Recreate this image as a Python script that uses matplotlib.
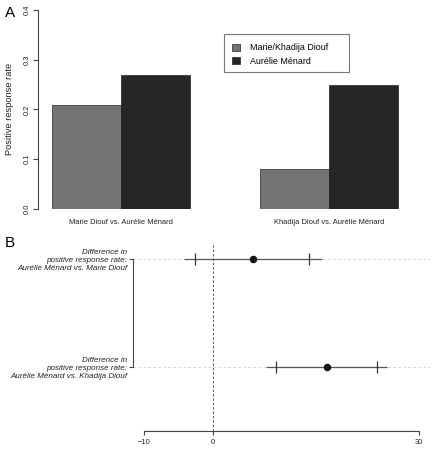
import matplotlib
matplotlib.use("Agg")
import matplotlib.pyplot as plt
from matplotlib.patches import Patch, Rectangle
import numpy as np

plt.rcParams['font.family'] = ['Liberation Sans', 'DejaVu Sans']

# panel A data
groups = ["Marie Diouf vs. Aurélie Ménard", "Khadija Diouf vs. Aurélie Ménard"]
series_names = ["Marie/Khadija Diouf", "Aurélie Ménard"]
diouf_rate = [0.21, 0.08]
menard_rate = [0.27, 0.25]
bar_colors = ["#747474", "#262626"]
y_ticks = [0.0, 0.1, 0.2, 0.3, 0.4]

# panel B data
diff_labels = ["Difference in\npositive response rate:\nAurélie Ménard vs. Marie Diouf",
               "Difference in\npositive response rate:\nAurélie Ménard vs. Khadija Diouf"]
diff_est = [5.9, 16.6]
ci_inner_lo = [-2.6, 9.2]
ci_inner_hi = [14.0, 23.9]
ci_outer_lo = [-4.2, 7.8]
ci_outer_hi = [15.9, 25.3]
x_ticks_b = [-10, 0, 30]

W, H = 432, 451
fig = plt.figure(figsize=(W / 100, H / 100), dpi=100)

def box(x0, y0, x1, y1):
    return [x0 / W, 1 - y1 / H, (x1 - x0) / W, (y1 - y0) / H]

axis_col = "#444444"

# ---- panel A ----
ax = fig.add_axes(box(38, 2, 412, 209))
starts = 1 + 3 * np.arange(len(groups))
ax.bar(starts + 0.5, diouf_rate, width=1, color=bar_colors[0], edgecolor="#222222", linewidth=0.5)
ax.bar(starts + 1.5, menard_rate, width=1, color=bar_colors[1], edgecolor="#222222", linewidth=0.5)
ax.set_xlim(0.8, 6.2)
ax.set_ylim(0, 0.416)
for s in ["top", "right", "bottom"]:
    ax.spines[s].set_visible(False)
ax.spines["left"].set_bounds(0, 0.4)
ax.spines["left"].set_color(axis_col)
ax.spines["left"].set_linewidth(0.8)
ax.set_yticks(y_ticks)
ax.set_yticklabels([f"{v:.1f}" for v in y_ticks], rotation=90, va="center")
ax.tick_params(axis="y", length=3.5, width=0.8, color=axis_col, pad=1.5, labelsize=5.4, labelcolor="#222222")
ax.set_xticks(starts + 1)
ax.set_xticklabels(groups)
ax.tick_params(axis="x", length=0, pad=7.5, labelsize=5.4, labelcolor="#222222")
fig.text(10 / W, 1 - 109 / H, "Positive response rate", rotation=90, ha="center", va="center",
         fontsize=6.7, color="#222222")
fig.text(10 / W, 1 - 13 / H, "A", ha="center", va="center", fontsize=11)

handles = [Patch(facecolor=c, edgecolor="#222222", linewidth=0.5) for c in bar_colors]
fig.legend(handles, series_names, loc="upper left", bbox_to_anchor=(224 / W, 1 - 35 / H),
           frameon=False, fontsize=6.4, handlelength=0.8, handleheight=0.8,
           handletextpad=1.2, labelspacing=0.5, borderpad=0.95, borderaxespad=0)
fig.patches.append(Rectangle((224 / W, 1 - 72 / H), 125 / W, 38 / H, transform=fig.transFigure,
                             fill=False, edgecolor="#777777", linewidth=0.8))

# ---- panel B ----
bx = fig.add_axes(box(133, 243, 430, 431))
rows = np.arange(len(diff_est), 0, -1)
bx.set_xlim(-11.6, 31.6)
bx.set_ylim(1 - 64 / 108, 2 + 16 / 108)
for r in rows:
    bx.axhline(r, color="#cfcfcf", linestyle=(0, (3, 3)), linewidth=0.6, zorder=1)
bx.axvline(0, color="#555555", linestyle=(0, (2.5, 2)), linewidth=0.7, zorder=1)
bx.hlines(rows, ci_outer_lo, ci_outer_hi, color="#555555", linewidth=0.9, zorder=2)
bx.plot(ci_inner_lo, rows, linestyle="none", marker="|", markersize=8, markeredgewidth=0.9,
        color="#333333", zorder=3)
bx.plot(ci_inner_hi, rows, linestyle="none", marker="|", markersize=8, markeredgewidth=0.9,
        color="#333333", zorder=3)
bx.plot(diff_est, rows, linestyle="none", marker="o", markersize=4.4, color="#111111", zorder=4)

for s in ["top", "right"]:
    bx.spines[s].set_visible(False)
bx.spines["bottom"].set_bounds(-10, 30)
bx.spines["left"].set_bounds(1, 2)
for s in ["bottom", "left"]:
    bx.spines[s].set_color(axis_col)
    bx.spines[s].set_linewidth(0.8)
bx.set_xticks(x_ticks_b)
bx.set_xticklabels(["\u221210", "0", "30"])
bx.tick_params(axis="x", length=3, width=0.8, color=axis_col, pad=3, labelsize=5.4, labelcolor="#222222")
bx.set_yticks(rows)
bx.set_yticklabels(diff_labels, fontstyle="italic", ha="right", linespacing=1.15)
bx.tick_params(axis="y", length=3, width=0.8, color=axis_col, pad=1, labelsize=5.8, labelcolor="#222222")
fig.text(10 / W, 1 - 243 / H, "B", ha="center", va="center", fontsize=11)

fig.savefig("out.png", dpi=100)
